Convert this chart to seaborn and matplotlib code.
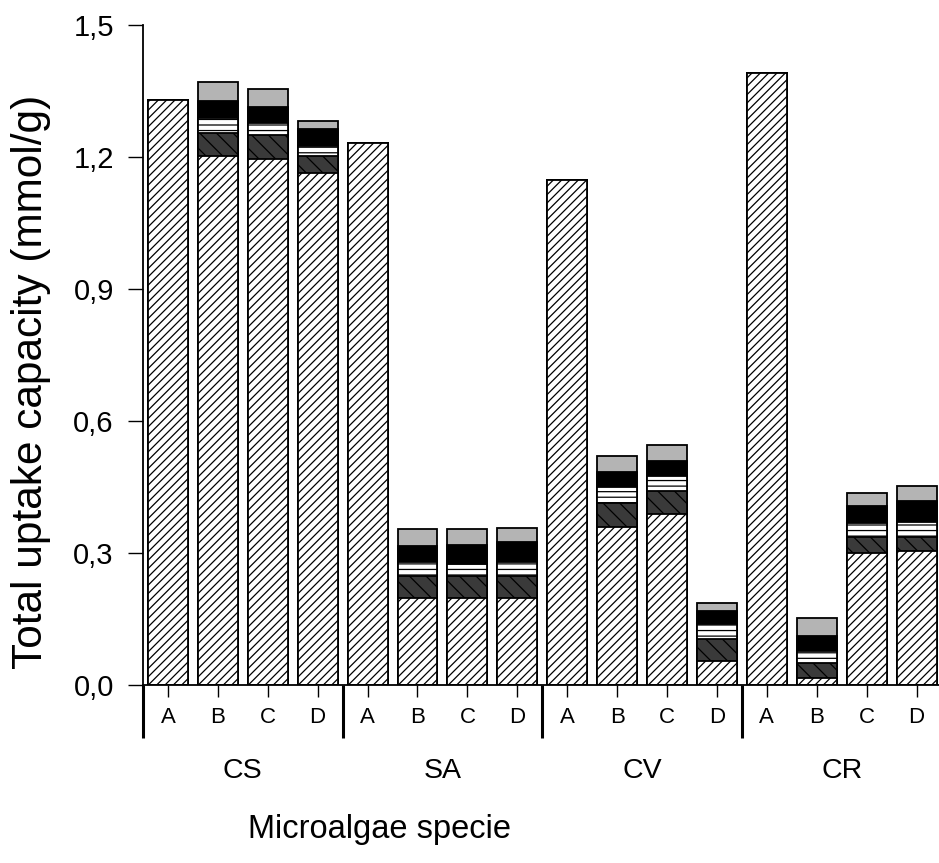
import numpy as np
import pandas as pd
import matplotlib
matplotlib.use("Agg")
import matplotlib.pyplot as plt
import matplotlib.transforms as mtransforms
import seaborn as sns

# ---------------- data ----------------
species = ["CS", "SA", "CV", "CR"]
conditions = ["A", "B", "C", "D"]
base   = [1.330, 1.202, 1.195, 1.163, 1.232, 0.198, 0.198, 0.198,
          1.148, 0.360, 0.389, 0.055, 1.390, 0.017, 0.301, 0.305]
dark   = [0, 0.052, 0.054, 0.039, 0, 0.050, 0.050, 0.050,
          0, 0.053, 0.052, 0.049, 0, 0.032, 0.036, 0.032]
stripe = [0, 0.034, 0.028, 0.023, 0, 0.032, 0.028, 0.032,
          0, 0.038, 0.034, 0.034, 0, 0.029, 0.032, 0.034]
black  = [0, 0.039, 0.037, 0.038, 0, 0.036, 0.042, 0.046,
          0, 0.034, 0.035, 0.030, 0, 0.034, 0.038, 0.048]
gray   = [0, 0.043, 0.040, 0.019, 0, 0.038, 0.036, 0.030,
          0, 0.035, 0.035, 0.019, 0, 0.040, 0.030, 0.034]
yticks = [0.0, 0.3, 0.6, 0.9, 1.2, 1.5]
ytick_labels = ["0,0", "0,3", "0,6", "0,9", "1,2", "1,5"]

# ---------------- build table ----------------
bars = [f"{s}-{c}" for s in species for c in conditions]
df = pd.DataFrame({"bar": bars, "base": base, "dark": dark, "stripe": stripe,
                   "black": black, "gray": gray})
df["c1"] = df["base"]
df["c2"] = df["c1"] + df["dark"]
df["c3"] = df["c2"] + df["stripe"]
df["c4"] = df["c3"] + df["black"]
df["c5"] = df["c4"] + df["gray"]

sns.set_style("ticks", {"text.color": "black", "axes.labelcolor": "black",
                        "xtick.color": "black", "ytick.color": "black",
                        "axes.edgecolor": "black"})
plt.rcParams["font.family"] = ["Liberation Sans", "DejaVu Sans"]
plt.rcParams["hatch.linewidth"] = 0.9

fig = plt.figure(figsize=(9.39, 8.63), dpi=100)
ax = fig.add_axes([143 / 939, (863 - 685) / 863, 1 - 143 / 939, 660 / 863])

layers = [("c5", "#b4b4b4", None),
          ("c4", "#000000", None),
          ("c3", "#ffffff", "---"),
          ("c2", "#3a3a3a", "\\\\"),
          ("c1", "#ffffff", "////")]
for col, color, hatch in layers:
    sns.barplot(data=df, x="bar", y=col, order=bars, color=color, saturation=1,
                width=0.8, edgecolor="black", linewidth=1.3, hatch=hatch,
                errorbar=None, ax=ax)

ax.set_xlim(-0.5, 15.45)
ax.set_ylim(0, 1.5)
ax.set_yticks(yticks, labels=ytick_labels)
ax.set_xticks(range(len(bars)), labels=conditions * len(species))
ax.set_xticks([-0.5, 3.5, 7.5, 11.5], minor=True)
ax.tick_params(axis="x", which="major", length=8.5, width=1, direction="out",
               pad=7, labelsize=16)
ax.tick_params(axis="x", which="minor", length=38, width=2.2, direction="out")
ax.tick_params(axis="y", which="major", length=11, width=1, direction="out",
               pad=10, labelsize=21)
for s in ["top", "right"]:
    ax.spines[s].set_visible(False)
ax.spines["left"].set_linewidth(1.3)
ax.spines["bottom"].set_linewidth(1.3)

trans = mtransforms.blended_transform_factory(ax.transData, ax.transAxes)
for i, s in enumerate(species):
    ax.text(1.5 + 4 * i, -0.131, s, transform=trans, ha="center", va="center",
            fontsize=20.5)

ax.set_xlabel("Microalgae specie", fontsize=23.5)
ax.xaxis.set_label_coords((380 - 143) / 796, -0.196)
ax.set_ylabel("Total uptake capacity (mmol/g)", fontsize=30.5)
ax.yaxis.set_label_coords(-0.116, 0.459)

fig.savefig("out.png", dpi=100)
